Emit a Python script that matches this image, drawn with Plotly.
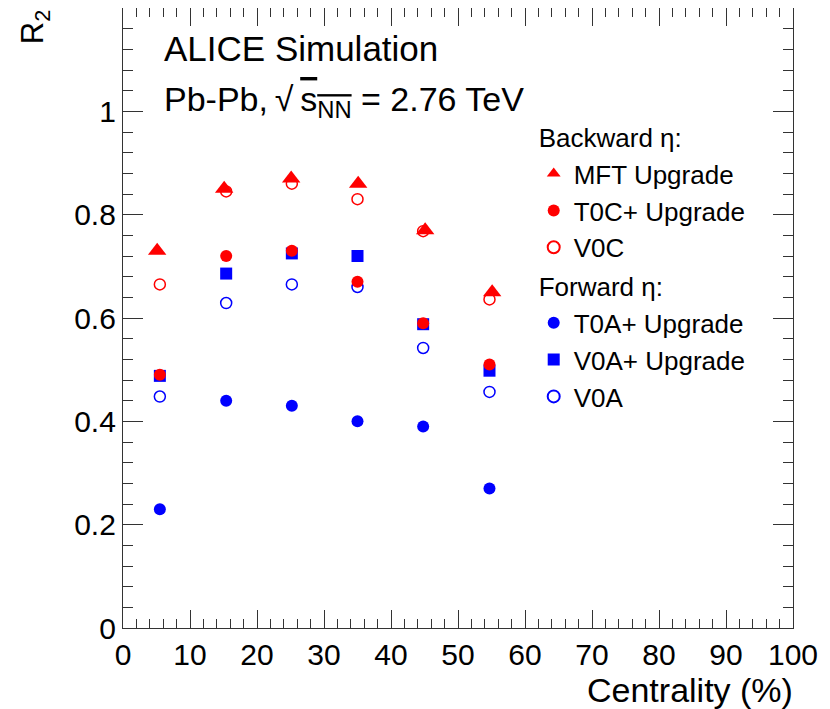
import plotly.graph_objects as go

# ---------------- data ----------------
x_mft = [5.1, 15.1, 25.1, 35.1, 45.1, 55.1]
x_det = [5.5, 15.4, 25.2, 35.0, 44.8, 54.7]

mft_upgrade = [0.73, 0.85, 0.87, 0.86, 0.77, 0.65]
t0c_upgrade = [0.49, 0.72, 0.73, 0.67, 0.59, 0.51]
v0c = [0.665, 0.845, 0.86, 0.83, 0.768, 0.636]
t0a_upgrade = [0.23, 0.44, 0.43, 0.40, 0.39, 0.27]
v0a_upgrade = [0.488, 0.686, 0.725, 0.72, 0.588, 0.498]
v0a = [0.448, 0.629, 0.665, 0.66, 0.542, 0.457]

y_tickvals = [0, 0.2, 0.4, 0.6, 0.8, 1.0]
y_ticktext = ["0", "0.2", "0.4", "0.6", "0.8", "1"]
x_tickvals = [0, 10, 20, 30, 40, 50, 60, 70, 80, 90, 100]

RED = "#ff0000"
BLUE = "#0000ff"
FONT = "Liberation Sans, Arial, sans-serif"

fig = go.Figure()

# drawing order: blue first, red on top; legend order via legendrank
fig.add_trace(go.Scatter(x=x_det, y=t0a_upgrade, mode="markers", name="T0A+ Upgrade",
                         legendgroup="fwd", legendgrouptitle_text="Forward η:", legendrank=4,
                         marker=dict(symbol="circle", size=12, color=BLUE)))
fig.add_trace(go.Scatter(x=x_det, y=v0a_upgrade, mode="markers", name="V0A+ Upgrade",
                         legendgroup="fwd", legendrank=5,
                         marker=dict(symbol="square", size=12, color=BLUE)))
fig.add_trace(go.Scatter(x=x_det, y=v0a, mode="markers", name="V0A",
                         legendgroup="fwd", legendrank=6,
                         marker=dict(symbol="circle-open", size=11, color=BLUE, line=dict(width=1.5))))
fig.add_trace(go.Scatter(x=x_det, y=v0c, mode="markers", name="V0C",
                         legendgroup="bwd", legendrank=3,
                         marker=dict(symbol="circle-open", size=11, color=RED, line=dict(width=1.5))))
fig.add_trace(go.Scatter(x=x_det, y=t0c_upgrade, mode="markers", name="T0C+ Upgrade",
                         legendgroup="bwd", legendrank=2,
                         marker=dict(symbol="circle", size=12, color=RED)))
fig.add_trace(go.Scatter(x=x_mft, y=mft_upgrade, mode="markers", name="MFT Upgrade",
                         legendgroup="bwd", legendgrouptitle_text="Backward η:", legendrank=1,
                         marker=dict(symbol="triangle-up", size=16, color=RED)))

axis_common = dict(showline=True, linecolor="#333333", linewidth=1.2, mirror="ticks",
                   ticks="inside", tickcolor="#333333", showgrid=False, zeroline=False,
                   tickfont=dict(family=FONT, size=30, color="black"))

fig.update_xaxes(range=[0, 100], tickmode="array", tickvals=x_tickvals,
                 ticklen=18, tickwidth=1.2,
                 minor=dict(dtick=2, tick0=0, ticklen=9, ticks="inside", tickcolor="#333333", tickwidth=1),
                 **axis_common)
fig.update_yaxes(range=[0, 1.2], tickmode="array", tickvals=y_tickvals, ticktext=y_ticktext,
                 ticklen=20, tickwidth=1.2,
                 minor=dict(dtick=0.04, tick0=0, ticklen=10, ticks="inside", tickcolor="#333333", tickwidth=1),
                 **axis_common)

fig.add_annotation(text="ALICE Simulation", x=0.058, y=0.934, xref="paper", yref="paper",
                   xanchor="left", yanchor="middle", showarrow=False,
                   font=dict(family=FONT, size=35, color="black"))
fig.add_annotation(text="Pb-Pb,\u2009√\u2009<span style='text-decoration:overline'>s<sub>NN</sub></span> = 2.76 TeV",
                   x=0.058, y=0.85, xref="paper", yref="paper",
                   xanchor="left", yanchor="middle", showarrow=False,
                   font=dict(family=FONT, size=34, color="black"))
fig.add_annotation(text="Centrality (%)", x=1.003, y=-0.1, xref="paper", yref="paper",
                   xanchor="right", yanchor="middle", showarrow=False,
                   font=dict(family=FONT, size=34, color="black"))
fig.add_annotation(text="R<sub>2</sub>", x=-0.131, y=1.0, xref="paper", yref="paper",
                   xanchor="center", yanchor="top", textangle=-90, showarrow=False,
                   font=dict(family=FONT, size=31, color="black"))

# page body adds an 8px offset; size and margins compensate for it
fig.update_layout(
    width=822, height=701,
    margin=dict(l=115, r=37, t=0, b=81),
    paper_bgcolor="white", plot_bgcolor="white",
    showlegend=True,
    legend=dict(x=0.613, y=0.83, xanchor="left", yanchor="top",
                bgcolor="rgba(0,0,0,0)", traceorder="grouped",
                font=dict(family=FONT, size=26, color="black"),
                grouptitlefont=dict(family=FONT, size=26, color="black"),
                tracegroupgap=2, itemsizing="constant"),
)

fig.write_html("out.html")
